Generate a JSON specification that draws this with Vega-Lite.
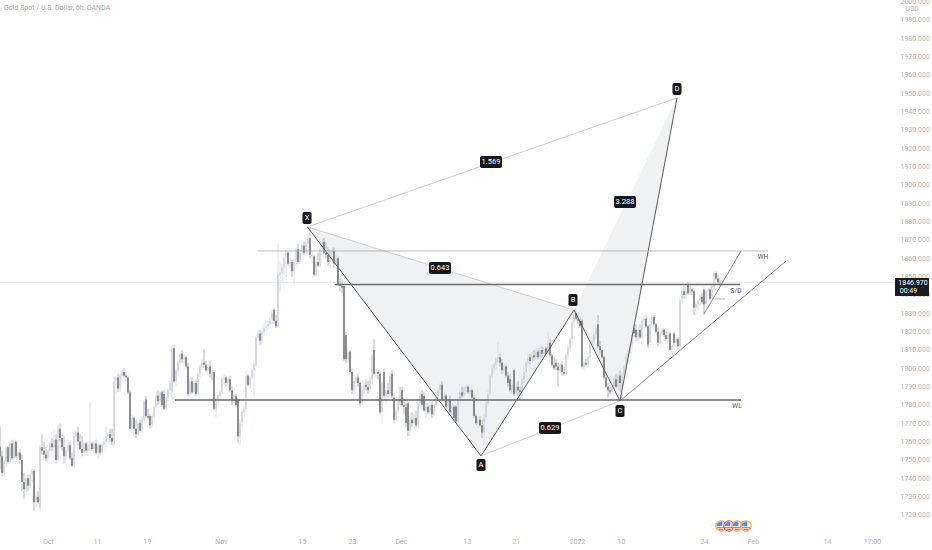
{
  "$schema": "https://vega.github.io/schema/vega-lite/v6.json",
  "description": "Gold Spot / U.S. Dollar 6h candles with a harmonic XABCD pattern drawn over them.",
  "width": 895,
  "height": 528,
  "autosize": "none",
  "padding": {"left": 0, "top": 0, "right": 37, "bottom": 22},
  "background": "white",
  "title": {
    "text": "Gold Spot / U.S. Dollar, 6h, OANDA",
    "anchor": "start",
    "frame": "group",
    "offset": -13,
    "dx": 4,
    "font": "Roboto",
    "fontSize": 7,
    "fontWeight": "normal",
    "color": "#a8a8a8"
  },
  "datasets": {
    "candles": [
      {"b":0,"o":1757,"h":1768,"l":1745,"c":1752},{"b":1,"o":1752,"h":1755,"l":1741,"c":1743},{"b":2,"o":1743,"h":1750,"l":1741,"c":1749},{"b":3,"o":1749,"h":1758,"l":1746,"c":1757},{"b":4,"o":1757,"h":1758,"l":1748,"c":1749},{"b":5,"o":1749,"h":1760,"l":1748,"c":1759},{"b":6,"o":1759,"h":1761,"l":1750,"c":1751},{"b":7,"o":1751,"h":1761,"l":1749,"c":1760},{"b":8,"o":1760,"h":1761,"l":1751,"c":1752},{"b":9,"o":1752,"h":1755,"l":1750,"c":1754},
      {"b":10,"o":1754,"h":1756,"l":1748,"c":1750},{"b":11,"o":1750,"h":1753,"l":1733,"c":1738},{"b":12,"o":1738,"h":1743,"l":1729,"c":1734},{"b":13,"o":1734,"h":1741,"l":1733,"c":1740},{"b":14,"o":1740,"h":1742,"l":1733,"c":1736},{"b":15,"o":1736,"h":1743,"l":1735,"c":1742},{"b":16,"o":1742,"h":1745,"l":1738,"c":1744},{"b":17,"o":1744,"h":1745,"l":1722,"c":1727},{"b":18,"o":1727,"h":1732,"l":1724,"c":1730},{"b":19,"o":1730,"h":1733,"l":1726,"c":1727},
      {"b":20,"o":1724,"h":1758,"l":1722,"c":1757},{"b":21,"o":1757,"h":1764,"l":1753,"c":1755},{"b":22,"o":1755,"h":1760,"l":1751,"c":1753},{"b":23,"o":1753,"h":1757,"l":1749,"c":1751},{"b":24,"o":1751,"h":1756,"l":1748,"c":1755},{"b":25,"o":1755,"h":1760,"l":1752,"c":1759},{"b":26,"o":1759,"h":1762,"l":1755,"c":1757},{"b":27,"o":1757,"h":1766,"l":1754,"c":1761},{"b":28,"o":1761,"h":1764,"l":1748,"c":1750},{"b":29,"o":1750,"h":1769,"l":1749,"c":1767},
      {"b":30,"o":1767,"h":1770,"l":1760,"c":1762},{"b":31,"o":1762,"h":1764,"l":1755,"c":1757},{"b":32,"o":1757,"h":1763,"l":1748,"c":1752},{"b":33,"o":1752,"h":1757,"l":1748,"c":1755},{"b":34,"o":1755,"h":1760,"l":1754,"c":1758},{"b":35,"o":1758,"h":1760,"l":1750,"c":1751},{"b":36,"o":1751,"h":1754,"l":1746,"c":1747},{"b":37,"o":1747,"h":1765,"l":1746,"c":1763},{"b":38,"o":1763,"h":1766,"l":1760,"c":1765},{"b":39,"o":1765,"h":1768,"l":1758,"c":1760},
      {"b":40,"o":1760,"h":1764,"l":1755,"c":1756},{"b":41,"o":1756,"h":1763,"l":1752,"c":1754},{"b":42,"o":1754,"h":1760,"l":1753,"c":1759},{"b":43,"o":1759,"h":1760,"l":1754,"c":1755},{"b":44,"o":1755,"h":1760,"l":1754,"c":1758},{"b":45,"o":1758,"h":1782,"l":1756,"c":1759},{"b":46,"o":1759,"h":1760,"l":1755,"c":1756},{"b":47,"o":1756,"h":1760,"l":1754,"c":1759},{"b":48,"o":1759,"h":1761,"l":1753,"c":1754},{"b":49,"o":1754,"h":1759,"l":1751,"c":1758},
      {"b":50,"o":1758,"h":1759,"l":1753,"c":1754},{"b":51,"o":1754,"h":1759,"l":1753,"c":1758},{"b":52,"o":1758,"h":1762,"l":1756,"c":1760},{"b":53,"o":1760,"h":1768,"l":1757,"c":1763},{"b":54,"o":1763,"h":1765,"l":1759,"c":1764},{"b":55,"o":1764,"h":1767,"l":1760,"c":1762},{"b":56,"o":1762,"h":1767,"l":1758,"c":1760},{"b":57,"o":1759,"h":1795,"l":1757,"c":1793},{"b":58,"o":1793,"h":1796,"l":1786,"c":1795},{"b":59,"o":1795,"h":1797,"l":1787,"c":1789},
      {"b":60,"o":1789,"h":1797,"l":1787,"c":1796},{"b":61,"o":1796,"h":1799,"l":1793,"c":1798},{"b":62,"o":1798,"h":1800,"l":1795,"c":1796},{"b":63,"o":1796,"h":1798,"l":1793,"c":1795},{"b":64,"o":1795,"h":1796,"l":1786,"c":1787},{"b":65,"o":1787,"h":1788,"l":1766,"c":1767},{"b":66,"o":1767,"h":1775,"l":1765,"c":1773},{"b":67,"o":1773,"h":1774,"l":1766,"c":1767},{"b":68,"o":1767,"h":1772,"l":1762,"c":1764},{"b":69,"o":1764,"h":1771,"l":1763,"c":1770},
      {"b":70,"o":1770,"h":1772,"l":1765,"c":1766},{"b":71,"o":1766,"h":1773,"l":1765,"c":1772},{"b":72,"o":1772,"h":1783,"l":1771,"c":1782},{"b":73,"o":1783,"h":1785,"l":1773,"c":1774},{"b":74,"o":1774,"h":1778,"l":1772,"c":1773},{"b":75,"o":1774,"h":1775,"l":1767,"c":1769},{"b":76,"o":1769,"h":1775,"l":1768,"c":1774},{"b":77,"o":1774,"h":1780,"l":1773,"c":1779},{"b":78,"o":1779,"h":1787,"l":1778,"c":1785},{"b":79,"o":1785,"h":1788,"l":1780,"c":1782},
      {"b":80,"o":1782,"h":1788,"l":1781,"c":1787},{"b":81,"o":1787,"h":1788,"l":1779,"c":1780},{"b":82,"o":1786,"h":1788,"l":1777,"c":1778},{"b":83,"o":1778,"h":1785,"l":1777,"c":1784},{"b":84,"o":1784,"h":1789,"l":1782,"c":1788},{"b":85,"o":1788,"h":1793,"l":1786,"c":1792},{"b":86,"o":1787,"h":1813,"l":1783,"c":1811},{"b":87,"o":1811,"h":1813,"l":1792,"c":1793},{"b":88,"o":1793,"h":1800,"l":1790,"c":1799},{"b":89,"o":1799,"h":1804,"l":1796,"c":1803},
      {"b":90,"o":1803,"h":1809,"l":1802,"c":1808},{"b":91,"o":1808,"h":1810,"l":1803,"c":1805},{"b":92,"o":1805,"h":1808,"l":1802,"c":1806},{"b":93,"o":1806,"h":1807,"l":1800,"c":1801},{"b":94,"o":1801,"h":1803,"l":1785,"c":1786},{"b":95,"o":1786,"h":1795,"l":1784,"c":1793},{"b":96,"o":1793,"h":1795,"l":1786,"c":1787},{"b":97,"o":1787,"h":1794,"l":1785,"c":1792},{"b":98,"o":1792,"h":1794,"l":1785,"c":1786},{"b":99,"o":1786,"h":1798,"l":1785,"c":1797},
      {"b":100,"o":1797,"h":1802,"l":1795,"c":1801},{"b":101,"o":1801,"h":1805,"l":1799,"c":1803},{"b":102,"o":1803,"h":1810,"l":1800,"c":1802},{"b":103,"o":1802,"h":1804,"l":1798,"c":1799},{"b":104,"o":1799,"h":1802,"l":1796,"c":1801},{"b":105,"o":1801,"h":1804,"l":1795,"c":1797},{"b":106,"o":1794,"h":1799,"l":1793,"c":1798},{"b":107,"o":1798,"h":1799,"l":1777,"c":1778},{"b":108,"o":1778,"h":1784,"l":1773,"c":1783},{"b":109,"o":1783,"h":1786,"l":1779,"c":1785},
      {"b":110,"o":1785,"h":1788,"l":1783,"c":1787},{"b":111,"o":1787,"h":1795,"l":1786,"c":1794},{"b":112,"o":1794,"h":1797,"l":1791,"c":1795},{"b":113,"o":1795,"h":1796,"l":1790,"c":1792},{"b":114,"o":1792,"h":1795,"l":1789,"c":1794},{"b":115,"o":1794,"h":1796,"l":1787,"c":1788},{"b":116,"o":1788,"h":1790,"l":1780,"c":1782},{"b":117,"o":1782,"h":1786,"l":1781,"c":1785},{"b":118,"o":1785,"h":1786,"l":1779,"c":1780},{"b":119,"o":1783,"h":1784,"l":1759,"c":1763},
      {"b":120,"o":1763,"h":1772,"l":1758,"c":1770},{"b":121,"o":1770,"h":1777,"l":1768,"c":1776},{"b":122,"o":1776,"h":1779,"l":1774,"c":1778},{"b":123,"o":1778,"h":1798,"l":1776,"c":1796},{"b":124,"o":1796,"h":1797,"l":1790,"c":1791},{"b":125,"o":1791,"h":1796,"l":1789,"c":1795},{"b":126,"o":1795,"h":1800,"l":1794,"c":1799},{"b":127,"o":1799,"h":1803,"l":1785,"c":1802},{"b":128,"o":1802,"h":1818,"l":1801,"c":1817},{"b":129,"o":1817,"h":1821,"l":1815,"c":1819},
      {"b":130,"o":1819,"h":1821,"l":1813,"c":1815},{"b":131,"o":1815,"h":1822,"l":1814,"c":1820},{"b":132,"o":1820,"h":1824,"l":1818,"c":1822},{"b":133,"o":1822,"h":1826,"l":1820,"c":1823},{"b":134,"o":1823,"h":1826,"l":1821,"c":1824},{"b":135,"o":1824,"h":1828,"l":1822,"c":1826},{"b":136,"o":1826,"h":1832,"l":1824,"c":1830},{"b":137,"o":1832,"h":1833,"l":1824,"c":1826},{"b":138,"o":1826,"h":1829,"l":1822,"c":1823},{"b":139,"o":1823,"h":1868,"l":1822,"c":1851},
      {"b":140,"o":1851,"h":1858,"l":1842,"c":1852},{"b":141,"o":1852,"h":1857,"l":1847,"c":1855},{"b":142,"o":1855,"h":1863,"l":1851,"c":1861},{"b":143,"o":1861,"h":1865,"l":1850,"c":1863},{"b":144,"o":1863,"h":1864,"l":1856,"c":1857},{"b":145,"o":1857,"h":1860,"l":1855,"c":1858},{"b":146,"o":1858,"h":1859,"l":1850,"c":1853},{"b":147,"o":1853,"h":1860,"l":1846,"c":1858},{"b":148,"o":1858,"h":1866,"l":1856,"c":1865},{"b":149,"o":1865,"h":1868,"l":1857,"c":1858},
      {"b":150,"o":1858,"h":1865,"l":1857,"c":1863},{"b":151,"o":1863,"h":1870,"l":1861,"c":1867},{"b":152,"o":1867,"h":1869,"l":1862,"c":1863},{"b":153,"o":1863,"h":1869,"l":1861,"c":1868},{"b":154,"o":1868,"h":1873,"l":1862,"c":1871},{"b":155,"o":1871,"h":1877,"l":1860,"c":1862},{"b":156,"o":1861,"h":1864,"l":1857,"c":1862},{"b":157,"o":1861,"h":1862,"l":1850,"c":1851},{"b":158,"o":1851,"h":1859,"l":1850,"c":1858},{"b":159,"o":1858,"h":1863,"l":1855,"c":1856},
      {"b":160,"o":1856,"h":1866,"l":1855,"c":1865},{"b":161,"o":1865,"h":1871,"l":1864,"c":1869},{"b":162,"o":1869,"h":1871,"l":1862,"c":1863},{"b":163,"o":1863,"h":1869,"l":1860,"c":1862},{"b":164,"o":1862,"h":1866,"l":1856,"c":1858},{"b":165,"o":1858,"h":1865,"l":1855,"c":1863},{"b":166,"o":1863,"h":1866,"l":1857,"c":1864},{"b":167,"o":1864,"h":1866,"l":1855,"c":1857},{"b":168,"o":1857,"h":1862,"l":1855,"c":1860},{"b":169,"o":1860,"h":1861,"l":1845,"c":1846},
      {"b":170,"o":1846,"h":1849,"l":1842,"c":1845},{"b":171,"o":1845,"h":1848,"l":1841,"c":1844},{"b":172,"o":1845,"h":1846,"l":1804,"c":1805},{"b":173,"o":1818,"h":1820,"l":1803,"c":1805},{"b":174,"o":1805,"h":1811,"l":1803,"c":1809},{"b":175,"o":1809,"h":1810,"l":1797,"c":1798},{"b":176,"o":1798,"h":1800,"l":1786,"c":1788},{"b":177,"o":1788,"h":1795,"l":1786,"c":1793},{"b":178,"o":1793,"h":1796,"l":1789,"c":1795},{"b":179,"o":1795,"h":1797,"l":1790,"c":1792},
      {"b":180,"o":1792,"h":1793,"l":1779,"c":1781},{"b":181,"o":1781,"h":1790,"l":1780,"c":1788},{"b":182,"o":1788,"h":1793,"l":1786,"c":1791},{"b":183,"o":1791,"h":1794,"l":1788,"c":1790},{"b":184,"o":1790,"h":1793,"l":1786,"c":1788},{"b":185,"o":1788,"h":1795,"l":1787,"c":1794},{"b":186,"o":1794,"h":1808,"l":1791,"c":1807},{"b":187,"o":1810,"h":1816,"l":1796,"c":1797},{"b":188,"o":1797,"h":1800,"l":1795,"c":1798},{"b":189,"o":1798,"h":1799,"l":1794,"c":1797},
      {"b":190,"o":1797,"h":1798,"l":1775,"c":1776},{"b":191,"o":1776,"h":1793,"l":1770,"c":1792},{"b":192,"o":1798,"h":1800,"l":1784,"c":1785},{"b":193,"o":1785,"h":1790,"l":1781,"c":1788},{"b":194,"o":1788,"h":1792,"l":1784,"c":1786},{"b":195,"o":1786,"h":1798,"l":1785,"c":1796},{"b":196,"o":1797,"h":1799,"l":1784,"c":1785},{"b":197,"o":1784,"h":1785,"l":1770,"c":1772},{"b":198,"o":1772,"h":1779,"l":1771,"c":1777},{"b":199,"o":1777,"h":1785,"l":1775,"c":1783},
      {"b":200,"o":1783,"h":1790,"l":1780,"c":1782},{"b":201,"o":1788,"h":1790,"l":1779,"c":1780},{"b":202,"o":1780,"h":1783,"l":1775,"c":1779},{"b":203,"o":1779,"h":1781,"l":1768,"c":1770},{"b":204,"o":1781,"h":1782,"l":1763,"c":1766},{"b":205,"o":1766,"h":1774,"l":1763,"c":1772},{"b":206,"o":1772,"h":1776,"l":1768,"c":1770},{"b":207,"o":1770,"h":1775,"l":1767,"c":1773},{"b":208,"o":1773,"h":1777,"l":1768,"c":1769},{"b":209,"o":1769,"h":1783,"l":1768,"c":1781},
      {"b":210,"o":1781,"h":1788,"l":1779,"c":1786},{"b":211,"o":1786,"h":1788,"l":1779,"c":1780},{"b":212,"o":1785,"h":1787,"l":1776,"c":1777},{"b":213,"o":1777,"h":1781,"l":1773,"c":1779},{"b":214,"o":1779,"h":1781,"l":1775,"c":1776},{"b":215,"o":1776,"h":1782,"l":1774,"c":1780},{"b":216,"o":1780,"h":1782,"l":1773,"c":1775},{"b":217,"o":1775,"h":1781,"l":1774,"c":1780},{"b":218,"o":1780,"h":1785,"l":1779,"c":1784},{"b":219,"o":1784,"h":1789,"l":1783,"c":1788},
      {"b":220,"o":1788,"h":1792,"l":1786,"c":1791},{"b":221,"o":1791,"h":1793,"l":1782,"c":1783},{"b":222,"o":1783,"h":1787,"l":1781,"c":1785},{"b":223,"o":1785,"h":1786,"l":1778,"c":1779},{"b":224,"o":1779,"h":1784,"l":1777,"c":1783},{"b":225,"o":1783,"h":1785,"l":1775,"c":1776},{"b":226,"o":1776,"h":1781,"l":1772,"c":1779},{"b":227,"o":1779,"h":1780,"l":1771,"c":1773},{"b":228,"o":1779,"h":1780,"l":1770,"c":1771},{"b":229,"o":1771,"h":1784,"l":1770,"c":1782},
      {"b":230,"o":1782,"h":1789,"l":1781,"c":1787},{"b":231,"o":1787,"h":1790,"l":1784,"c":1785},{"b":232,"o":1785,"h":1790,"l":1784,"c":1789},{"b":233,"o":1789,"h":1791,"l":1786,"c":1790},{"b":234,"o":1790,"h":1791,"l":1786,"c":1787},{"b":235,"o":1787,"h":1790,"l":1785,"c":1788},{"b":236,"o":1788,"h":1789,"l":1783,"c":1784},{"b":237,"o":1784,"h":1785,"l":1773,"c":1774},{"b":238,"o":1774,"h":1775,"l":1769,"c":1770},{"b":239,"o":1770,"h":1774,"l":1767,"c":1772},
      {"b":240,"o":1772,"h":1774,"l":1768,"c":1769},{"b":241,"o":1769,"h":1772,"l":1762,"c":1765},{"b":242,"o":1765,"h":1775,"l":1758,"c":1773},{"b":243,"o":1773,"h":1782,"l":1771,"c":1781},{"b":244,"o":1781,"h":1788,"l":1779,"c":1786},{"b":245,"o":1786,"h":1797,"l":1785,"c":1796},{"b":246,"o":1796,"h":1802,"l":1795,"c":1800},{"b":247,"o":1800,"h":1803,"l":1797,"c":1802},{"b":248,"o":1802,"h":1806,"l":1799,"c":1805},{"b":249,"o":1805,"h":1814,"l":1803,"c":1806},
      {"b":250,"o":1806,"h":1808,"l":1801,"c":1803},{"b":251,"o":1803,"h":1805,"l":1797,"c":1799},{"b":252,"o":1799,"h":1803,"l":1797,"c":1801},{"b":253,"o":1801,"h":1802,"l":1795,"c":1796},{"b":254,"o":1796,"h":1798,"l":1790,"c":1792},{"b":255,"o":1794,"h":1797,"l":1787,"c":1788},{"b":256,"o":1788,"h":1793,"l":1786,"c":1791},{"b":257,"o":1799,"h":1800,"l":1785,"c":1786},{"b":258,"o":1786,"h":1792,"l":1785,"c":1790},{"b":259,"o":1790,"h":1793,"l":1785,"c":1788},
      {"b":260,"o":1788,"h":1790,"l":1783,"c":1787},{"b":261,"o":1787,"h":1796,"l":1785,"c":1794},{"b":262,"o":1794,"h":1800,"l":1792,"c":1798},{"b":263,"o":1798,"h":1805,"l":1796,"c":1803},{"b":264,"o":1803,"h":1808,"l":1801,"c":1806},{"b":265,"o":1806,"h":1808,"l":1802,"c":1804},{"b":266,"o":1804,"h":1809,"l":1803,"c":1807},{"b":267,"o":1807,"h":1810,"l":1804,"c":1806},{"b":268,"o":1806,"h":1811,"l":1805,"c":1809},{"b":269,"o":1809,"h":1811,"l":1805,"c":1806},
      {"b":270,"o":1806,"h":1812,"l":1805,"c":1810},{"b":271,"o":1810,"h":1812,"l":1806,"c":1808},{"b":272,"o":1808,"h":1812,"l":1807,"c":1811},{"b":273,"o":1811,"h":1812,"l":1806,"c":1808},{"b":274,"o":1808,"h":1820,"l":1807,"c":1814},{"b":275,"o":1814,"h":1816,"l":1806,"c":1807},{"b":276,"o":1807,"h":1808,"l":1801,"c":1802},{"b":277,"o":1802,"h":1806,"l":1799,"c":1800},{"b":278,"o":1803,"h":1805,"l":1799,"c":1801},{"b":279,"o":1801,"h":1803,"l":1790,"c":1799},
      {"b":280,"o":1799,"h":1803,"l":1797,"c":1802},{"b":281,"o":1802,"h":1804,"l":1796,"c":1798},{"b":282,"o":1798,"h":1801,"l":1796,"c":1797},{"b":283,"o":1797,"h":1808,"l":1796,"c":1807},{"b":284,"o":1807,"h":1812,"l":1805,"c":1811},{"b":285,"o":1811,"h":1817,"l":1809,"c":1816},{"b":286,"o":1816,"h":1827,"l":1814,"c":1825},{"b":287,"o":1825,"h":1832,"l":1822,"c":1830},{"b":288,"o":1830,"h":1831,"l":1826,"c":1827},{"b":289,"o":1827,"h":1829,"l":1824,"c":1826},
      {"b":290,"o":1826,"h":1828,"l":1822,"c":1823},{"b":291,"o":1826,"h":1827,"l":1800,"c":1801},{"b":292,"o":1801,"h":1805,"l":1799,"c":1803},{"b":293,"o":1803,"h":1805,"l":1801,"c":1802},{"b":294,"o":1802,"h":1808,"l":1800,"c":1806},{"b":295,"o":1806,"h":1815,"l":1805,"c":1813},{"b":296,"o":1813,"h":1817,"l":1811,"c":1815},{"b":297,"o":1815,"h":1820,"l":1813,"c":1818},{"b":298,"o":1818,"h":1824,"l":1816,"c":1822},{"b":299,"o":1824,"h":1829,"l":1811,"c":1812},
      {"b":300,"o":1812,"h":1815,"l":1808,"c":1810},{"b":301,"o":1810,"h":1811,"l":1805,"c":1806},{"b":302,"o":1806,"h":1807,"l":1794,"c":1795},{"b":303,"o":1795,"h":1797,"l":1789,"c":1790},{"b":304,"o":1790,"h":1792,"l":1784,"c":1788},{"b":305,"o":1788,"h":1791,"l":1786,"c":1787},{"b":306,"o":1787,"h":1793,"l":1785,"c":1790},{"b":307,"o":1790,"h":1796,"l":1788,"c":1794},{"b":308,"o":1794,"h":1797,"l":1789,"c":1790},{"b":309,"o":1790,"h":1797,"l":1788,"c":1796},
      {"b":310,"o":1796,"h":1799,"l":1787,"c":1792},{"b":311,"o":1790,"h":1798,"l":1783,"c":1796},{"b":312,"o":1796,"h":1802,"l":1794,"c":1801},{"b":313,"o":1801,"h":1808,"l":1799,"c":1806},{"b":314,"o":1806,"h":1810,"l":1803,"c":1808},{"b":315,"o":1808,"h":1815,"l":1806,"c":1813},{"b":316,"o":1813,"h":1820,"l":1811,"c":1818},{"b":317,"o":1822,"h":1824,"l":1817,"c":1819},{"b":318,"o":1821,"h":1824,"l":1815,"c":1817},{"b":319,"o":1817,"h":1823,"l":1815,"c":1821},
      {"b":320,"o":1821,"h":1824,"l":1816,"c":1817},{"b":321,"o":1817,"h":1828,"l":1816,"c":1826},{"b":322,"o":1826,"h":1829,"l":1824,"c":1827},{"b":323,"o":1827,"h":1829,"l":1822,"c":1823},{"b":324,"o":1823,"h":1824,"l":1811,"c":1813},{"b":325,"o":1814,"h":1826,"l":1812,"c":1824},{"b":326,"o":1824,"h":1829,"l":1822,"c":1828},{"b":327,"o":1828,"h":1829,"l":1823,"c":1824},{"b":328,"o":1824,"h":1825,"l":1819,"c":1820},{"b":329,"o":1820,"h":1822,"l":1812,"c":1814},
      {"b":330,"o":1814,"h":1821,"l":1813,"c":1819},{"b":331,"o":1819,"h":1822,"l":1818,"c":1821},{"b":332,"o":1821,"h":1822,"l":1817,"c":1818},{"b":333,"o":1818,"h":1820,"l":1815,"c":1816},{"b":334,"o":1816,"h":1820,"l":1814,"c":1818},{"b":335,"o":1819,"h":1820,"l":1809,"c":1810},{"b":336,"o":1810,"h":1813,"l":1806,"c":1812},{"b":337,"o":1819,"h":1820,"l":1813,"c":1814},{"b":338,"o":1814,"h":1817,"l":1811,"c":1816},{"b":339,"o":1816,"h":1817,"l":1811,"c":1812},
      {"b":340,"o":1812,"h":1838,"l":1811,"c":1837},{"b":341,"o":1838,"h":1844,"l":1836,"c":1842},{"b":342,"o":1842,"h":1845,"l":1838,"c":1840},{"b":343,"o":1840,"h":1844,"l":1838,"c":1842},{"b":344,"o":1846,"h":1847,"l":1840,"c":1841},{"b":345,"o":1841,"h":1846,"l":1840,"c":1845},{"b":346,"o":1843,"h":1844,"l":1840,"c":1842},{"b":347,"o":1842,"h":1843,"l":1829,"c":1833},{"b":348,"o":1833,"h":1836,"l":1829,"c":1835},{"b":349,"o":1835,"h":1838,"l":1832,"c":1837},
      {"b":350,"o":1837,"h":1840,"l":1834,"c":1839},{"b":351,"o":1839,"h":1841,"l":1835,"c":1836},{"b":352,"o":1843,"h":1844,"l":1829,"c":1835},{"b":353,"o":1835,"h":1843,"l":1833,"c":1842},{"b":354,"o":1842,"h":1844,"l":1838,"c":1843},{"b":355,"o":1843,"h":1844,"l":1837,"c":1838},{"b":356,"o":1838,"h":1846,"l":1837,"c":1845},{"b":357,"o":1845,"h":1853,"l":1843,"c":1852},{"b":358,"o":1852,"h":1853,"l":1848,"c":1849},{"b":359,"o":1849,"h":1851,"l":1846,"c":1847},
      {"b":360,"o":1847,"h":1849,"l":1845,"c":1846.97}
    ],
    "triangles": [
      {"tri":"XAB","b":153.75,"top":1877.1,"bottom":1877.1},
      {"tri":"XAB","b":240.5,"top":1847.6,"bottom":1752.2},
      {"tri":"XAB","b":287,"top":1831.8,"bottom":1831.8},
      {"tri":"BCD","b":287,"top":1831.8,"bottom":1831.8},
      {"tri":"BCD","b":310,"top":1883.5,"bottom":1782.2},
      {"tri":"BCD","b":338.5,"top":1947.5,"bottom":1947.5}
    ],
    "legs": [
      {"leg":"XA","b":153.75,"p":1877.1,"b2":240.5,"p2":1752.2},
      {"leg":"AB","b":240.5,"p":1752.2,"b2":287,"p2":1831.8},
      {"leg":"BC","b":287,"p":1831.8,"b2":310,"p2":1782.2},
      {"leg":"CD","b":310,"p":1782.2,"b2":338.5,"p2":1947.5}
    ],
    "trends": [
      {"leg":"trend","b":310,"p":1782.2,"b2":393,"p2":1858.5},
      {"leg":"channel","b":352,"p":1829.6,"b2":370.5,"p2":1864}
    ],
    "ratios": [
      {"leg":"XB","b":153.75,"p":1877.1,"b2":287,"p2":1831.8},
      {"leg":"AC","b":240.5,"p":1752.2,"b2":310,"p2":1782.2},
      {"leg":"XD","b":153.75,"p":1877.1,"b2":338.5,"p2":1947.5}
    ],
    "zones": [
      {"zone":"S/D","b":167.5,"b2":370,"p":1845.7},
      {"zone":"WL","b":87.5,"b2":370.5,"p":1782.7}
    ],
    "thinLevels": [
      {"zone":"WH","b":129,"b2":384,"p":1864},
      {"zone":"minor","b":356,"b2":362.5,"p":1837.8}
    ],
    "ratioLabels": [
      {"label":"1.569","b":245.5,"p":1912.5},
      {"label":"0.643","b":220,"p":1854.7},
      {"label":"3.288","b":312.5,"p":1890.7},
      {"label":"0.629","b":275,"p":1767.5}
    ],
    "pointLabels": [
      {"label":"X","b":153.5,"p":1882},
      {"label":"A","b":240.5,"p":1747.3},
      {"label":"B","b":286.5,"p":1837.3},
      {"label":"C","b":310,"p":1776.7},
      {"label":"D","b":338.5,"p":1952.4}
    ],
    "zoneLabels": [
      {"label":"WH","b":381.5,"p":1860.7},
      {"label":"S/D","b":368,"p":1842.2},
      {"label":"WL","b":368.5,"p":1779.5}
    ],
    "events": [
      {"b":360.5,"p":1714,"impact":"mid"},
      {"b":364.5,"p":1714,"impact":"high"},
      {"b":368.5,"p":1714,"impact":"mid"},
      {"b":373,"p":1714,"impact":"mid"}
    ]
  },
  "layer": [
    {
      "data": {"values": [{"p": 1846.97}]},
      "mark": {"type": "rule", "color": "#e4e4e4", "strokeWidth": 1},
      "encoding": {
        "y": {
          "field": "p",
          "type": "quantitative",
          "scale": {"domain": [1712.9, 2000.9], "nice": false, "zero": false},
          "axis": {
            "orient": "right",
            "title": null,
            "values": [1720,1730,1740,1750,1760,1770,1780,1790,1800,1810,1820,1830,1840,1850,1860,1870,1880,1890,1900,1910,1920,1930,1940,1950,1960,1970,1980,1990,2000],
            "tickCount": 29,
            "format": ".3f",
            "domain": false,
            "ticks": false,
            "grid": false,
            "labelFont": "Roboto",
            "labelFontSize": 7,
            "labelColor": "#b4b4b4",
            "labelPadding": 5,
            "labelOverlap": false,
            "labelBound": false,
            "labelFlush": false
          }
        }
      }
    },
    {
      "data": {"name": "triangles"},
      "mark": {"type": "area", "color": "#f0f1f3", "opacity": 1},
      "encoding": {
        "x": {
          "field": "b",
          "type": "quantitative",
          "scale": {"domain": [0, 447.5], "nice": false, "zero": false},
          "axis": {
            "title": null,
            "values": [24,48.5,73.5,110.5,151,176,200.5,233.5,258,288.5,310.5,352,376.5,413.5,436],
            "labelExpr": "{'24':'Oct','48.5':'11','73.5':'19','110.5':'Nov','151':'15','176':'23','200.5':'Dec','233.5':'13','258':'21','288.5':'2022','310.5':'10','352':'24','376.5':'Feb','413.5':'14','436':'17:00'}[datum.value]",
            "domain": false,
            "ticks": false,
            "grid": false,
            "labelFont": "Roboto",
            "labelFontSize": 7,
            "labelColor": "#b4b4b4",
            "labelPadding": 9,
            "labelOverlap": false,
            "labelBound": false,
            "labelFlush": false
          }
        },
        "y": {"field": "top", "type": "quantitative"},
        "y2": {"field": "bottom"},
        "detail": {"field": "tri"}
      }
    },
    {
      "data": {"name": "candles"},
      "mark": {"type": "rule", "strokeWidth": 0.8},
      "encoding": {
        "x": {"field": "b", "type": "quantitative"},
        "y": {"field": "l", "type": "quantitative"},
        "y2": {"field": "h"},
        "color": {"condition": {"test": "datum.c >= datum.o", "value": "#d6d7e2"}, "value": "#a4a4a4"}
      }
    },
    {
      "data": {"name": "candles"},
      "mark": {"type": "rule", "strokeWidth": 1.1},
      "encoding": {
        "x": {"field": "b", "type": "quantitative"},
        "y": {"field": "o", "type": "quantitative"},
        "y2": {"field": "c"},
        "color": {"condition": {"test": "datum.c >= datum.o", "value": "#c3c5de"}, "value": "#4c4c4c"}
      }
    },
    {
      "data": {"name": "ratios"},
      "mark": {"type": "rule", "color": "#c6c6c6", "strokeWidth": 0.8},
      "encoding": {
        "x": {"field": "b", "type": "quantitative"},
        "x2": {"field": "b2"},
        "y": {"field": "p", "type": "quantitative"},
        "y2": {"field": "p2"}
      }
    },
    {
      "data": {"name": "legs"},
      "mark": {"type": "rule", "color": "#5a5a5a", "strokeWidth": 1},
      "encoding": {
        "x": {"field": "b", "type": "quantitative"},
        "x2": {"field": "b2"},
        "y": {"field": "p", "type": "quantitative"},
        "y2": {"field": "p2"}
      }
    },
    {
      "data": {"name": "trends"},
      "mark": {"type": "rule", "color": "#707070", "strokeWidth": 0.8},
      "encoding": {
        "x": {"field": "b", "type": "quantitative"},
        "x2": {"field": "b2"},
        "y": {"field": "p", "type": "quantitative"},
        "y2": {"field": "p2"}
      }
    },
    {
      "data": {"name": "thinLevels"},
      "mark": {"type": "rule", "color": "#a6a6a6", "strokeWidth": 0.8},
      "encoding": {
        "x": {"field": "b", "type": "quantitative"},
        "x2": {"field": "b2"},
        "y": {"field": "p", "type": "quantitative"}
      }
    },
    {
      "data": {"name": "zones"},
      "mark": {"type": "rule", "color": "#6a6a6a", "strokeWidth": 1.5},
      "encoding": {
        "x": {"field": "b", "type": "quantitative"},
        "x2": {"field": "b2"},
        "y": {"field": "p", "type": "quantitative"}
      }
    },
    {
      "data": {"name": "zoneLabels"},
      "mark": {"type": "text", "font": "Roboto", "fontSize": 6.5, "color": "#555555"},
      "encoding": {
        "x": {"field": "b", "type": "quantitative"},
        "y": {"field": "p", "type": "quantitative"},
        "text": {"field": "label"}
      }
    },
    {
      "data": {"name": "ratioLabels"},
      "mark": {
        "type": "point",
        "shape": "M-0.82,-0.545 L0.82,-0.545 Q1,-0.545 1,-0.365 L1,0.365 Q1,0.545 0.82,0.545 L-0.82,0.545 Q-1,0.545 -1,0.365 L-1,-0.365 Q-1,-0.545 -0.82,-0.545 Z",
        "filled": true,
        "size": 484,
        "color": "#16171c",
        "opacity": 1,
        "strokeWidth": 0
      },
      "encoding": {
        "x": {"field": "b", "type": "quantitative"},
        "y": {"field": "p", "type": "quantitative"}
      }
    },
    {
      "data": {"name": "ratioLabels"},
      "mark": {"type": "text", "font": "Roboto", "fontSize": 7.5, "color": "#ffffff"},
      "encoding": {
        "x": {"field": "b", "type": "quantitative"},
        "y": {"field": "p", "type": "quantitative"},
        "text": {"field": "label"}
      }
    },
    {
      "data": {"name": "pointLabels"},
      "mark": {
        "type": "point",
        "shape": "M-0.45,-1 L0.45,-1 Q0.75,-1 0.75,-0.7 L0.75,0.7 Q0.75,1 0.45,1 L-0.45,1 Q-0.75,1 -0.75,0.7 L-0.75,-0.7 Q-0.75,-1 -0.45,-1 Z",
        "filled": true,
        "size": 144,
        "color": "#16171c",
        "opacity": 1,
        "strokeWidth": 0
      },
      "encoding": {
        "x": {"field": "b", "type": "quantitative"},
        "y": {"field": "p", "type": "quantitative"}
      }
    },
    {
      "data": {"name": "pointLabels"},
      "mark": {"type": "text", "font": "Roboto", "fontSize": 7.5, "color": "#ffffff"},
      "encoding": {
        "x": {"field": "b", "type": "quantitative"},
        "y": {"field": "p", "type": "quantitative"},
        "text": {"field": "label"}
      }
    },
    {
      "data": {"name": "events"},
      "mark": {"type": "point", "shape": "circle", "filled": true, "fill": "#f3f3f6", "size": 110, "opacity": 1, "strokeWidth": 1.1},
      "encoding": {
        "x": {"field": "b", "type": "quantitative"},
        "y": {"field": "p", "type": "quantitative"},
        "stroke": {"condition": {"test": "datum.impact === 'high'", "value": "#e9585f"}, "value": "#f5a83e"}
      }
    },
    {
      "data": {"name": "events"},
      "mark": {
        "type": "point",
        "shape": "M-0.85,0 A0.85,0.85 0 0 1 0.25,-0.8 L0.25,0 Z",
        "filled": true,
        "size": 110,
        "color": "#5b8fdc",
        "opacity": 1,
        "strokeWidth": 0
      },
      "encoding": {
        "x": {"field": "b", "type": "quantitative"},
        "y": {"field": "p", "type": "quantitative"}
      }
    },
    {
      "data": {"name": "events"},
      "mark": {
        "type": "point",
        "shape": "M-0.8,0.22 L0.8,0.22 L0.72,0.42 L-0.72,0.42 Z M-0.55,0.62 L0.55,0.62 L0.3,0.8 L-0.3,0.8 Z",
        "filled": true,
        "size": 110,
        "color": "#e5484f",
        "opacity": 1,
        "strokeWidth": 0
      },
      "encoding": {
        "x": {"field": "b", "type": "quantitative"},
        "y": {"field": "p", "type": "quantitative"}
      }
    },
    {
      "data": {"values": [{"b": 456, "p": 1844.4}]},
      "mark": {
        "type": "point",
        "shape": "M-1,-0.53 L1,-0.53 L1,0.53 L-1,0.53 Z",
        "filled": true,
        "size": 1156,
        "color": "#1b1c21",
        "opacity": 1,
        "strokeWidth": 0
      },
      "encoding": {
        "x": {"field": "b", "type": "quantitative"},
        "y": {"field": "p", "type": "quantitative"}
      }
    },
    {
      "data": {"values": [{"label": "1846.970", "b": 456.5, "p": 1846.3}, {"label": "00:49", "b": 454.25, "p": 1842.2}]},
      "mark": {"type": "text", "font": "Roboto", "fontSize": 7, "color": "#ffffff"},
      "encoding": {
        "x": {"field": "b", "type": "quantitative"},
        "y": {"field": "p", "type": "quantitative"},
        "text": {"field": "label"}
      }
    },
    {
      "data": {"values": [{"label": "USD", "b": 456, "p": 1996}]},
      "mark": {"type": "text", "font": "Roboto", "fontSize": 7, "color": "#b4b4b4"},
      "encoding": {
        "x": {"field": "b", "type": "quantitative"},
        "y": {"field": "p", "type": "quantitative"},
        "text": {"field": "label"}
      }
    }
  ],
  "config": {"view": {"stroke": null}}
}
